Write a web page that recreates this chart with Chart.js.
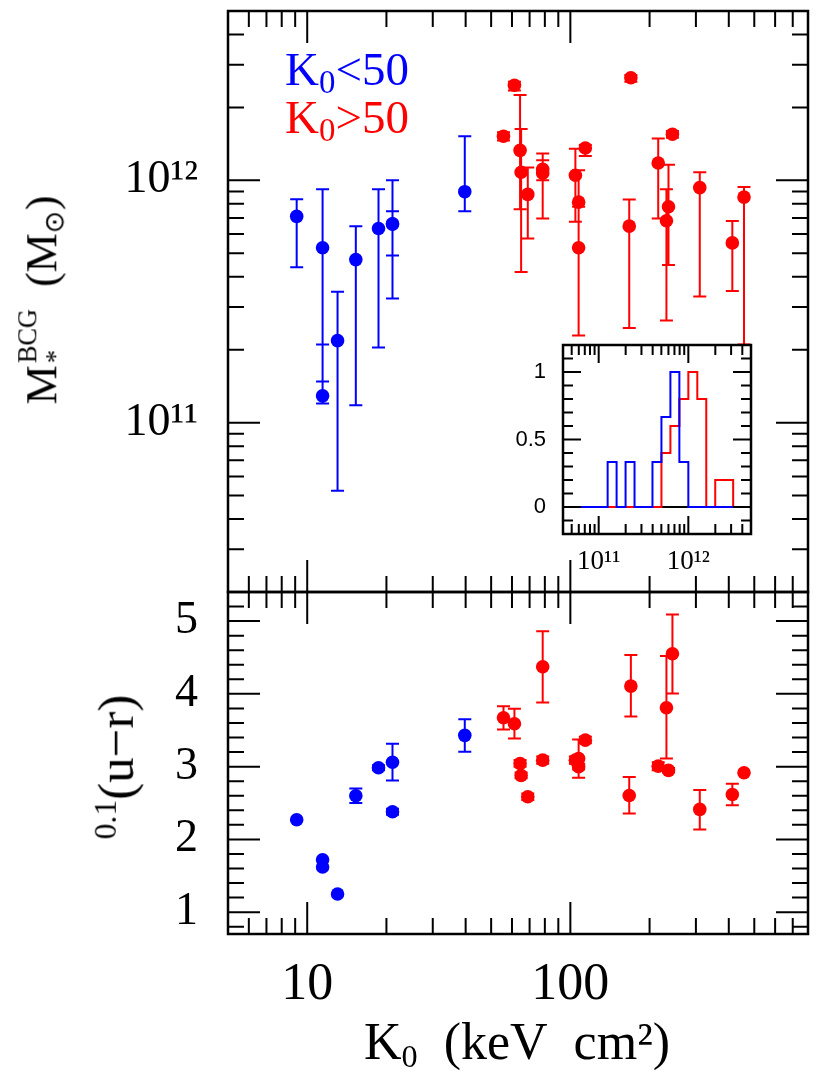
<!DOCTYPE html>
<html>
<head>
<meta charset="utf-8">
<title>BCG stellar mass and colour against K0</title>
<script src="https://cdn.jsdelivr.net/npm/chart.js@4.4.1/dist/chart.umd.min.js"></script>
<style>
  body { margin: 0; background: #fff; }
  #wrap { position: relative; width: 830px; height: 1084px; font-family: 'Liberation Serif', serif; color: #000; overflow: hidden; }
  canvas { position: absolute; }
  .lbl { position: absolute; white-space: nowrap; line-height: 1; }
  .rot { transform: translate(-50%, -50%) rotate(-90deg); }
  .sub { font-size: 0.62em; vertical-align: -0.25em; }
  .sup { font-size: 0.62em; vertical-align: 0.55em; }
</style>
</head>
<body>
<div id="wrap">
  <canvas id="topChart" width="830" height="600" style="left:0;top:0"></canvas>
  <canvas id="bottomChart" width="830" height="524" style="left:0;top:560px"></canvas>
  <canvas id="insetChart" width="280" height="260" style="left:490px;top:330px"></canvas>

  <div class="lbl" style="left:285px;top:46px;font-size:47px;color:#0000ff">K<span class="sub" style="font-size:0.7em">0</span>&lt;50</div>
  <div class="lbl" style="left:285px;top:94px;font-size:47px;color:#ff0000">K<span class="sub" style="font-size:0.7em">0</span>&gt;50</div>

  <div class="lbl rot" style="left:42px;top:300px;font-size:44px">M<span style="display:inline-block;font-size:0.6em;line-height:1.05;vertical-align:-0.3em;margin-left:2px"><span style="display:block">BCG</span><span style="display:block">*</span></span>&nbsp;&nbsp;(M<span class="sub">⊙</span>)</div>
  <div class="lbl rot" style="left:116px;top:767px;font-size:51px"><span class="sup">0.1</span>(u−r)</div>
  <div class="lbl" style="left:517px;top:1016px;font-size:52px;transform:translateX(-50%)">K<span class="sub">0</span>&nbsp;&nbsp;(keV&nbsp;&nbsp;cm²)</div>
</div>

<script>
// K0 (keV cm^2) of each cluster, split at K0 = 50
const blueK = [9.12, 11.44, 11.44, 13.04, 15.3, 18.66, 21.09, 21.09, 39.7];
const redK = [61.3, 55.7, 64.4, 65.0, 68.9, 78.5, 78.5, 104.5, 114.0, 107.5, 107.5,
              169.8, 167.4, 215.7, 244.3, 236, 231.8, 310.3, 412.6, 457];

// BCG stellar mass (Msun) with upper / lower error ends
const blueMass = [7.1e11, 5.27e11, 1.29e11, 2.18e11, 4.71e11, 6.33e11, 6.62e11, 6.6e11, 8.98e11];
const blueMassHi = [8.35e11, 9.18e11, 2.1e11, 3.47e11, 6.47e11, 9.18e11, 1.0e12, 7.45e11, 1.52e12];
const blueMassLo = [4.38e11, 1.48e11, 1.2e11, 5.23e10, 1.18e11, 2.04e11, 3.25e11, 4.9e11, 7.46e11];
const redMass = [2.47e12, 1.52e12, 1.33e12, 1.08e12, 8.75e11, 1.11e12, 1.07e12, 1.05e12, 1.36e12, 8.13e11,
                 5.27e11, 2.65e12, 6.47e11, 1.18e12, 1.55e12, 7.78e11, 6.81e11, 9.33e11, 5.52e11, 8.53e11];
const redMassHi = [2.55e12, 1.58e12, 2.25e12, 1.63e12, 1.13e12, 1.29e12, 1.21e12, 1.35e12, 1.4e12, 1.1e12,
                   7.78e11, 2.72e12, 8.34e11, 1.49e12, 1.6e12, 1.16e12, 9.18e11, 1.08e12, 6.8e11, 9.38e11];
const redMassLo = [2.35e12, 1.46e12, 7.59e11, 4.19e11, 5.75e11, 1.0e12, 6.96e11, 6.74e11, 1.26e12, 7.78e11,
                   2.29e11, 2.55e12, 2.46e11, 6.96e11, 1.5e12, 4.47e11, 2.64e11, 3.32e11, 3.49e11, 2.1e11];

// 0.1(u-r) colour with error ends (null = no bar)
const blueColour = [2.27, 1.72, 1.62, 1.25, 2.6, 2.985, 3.06, 2.38, 3.43];
const blueColourHi = [null, null, null, null, 2.7, 3.02, 3.315, 2.42, 3.65];
const blueColourLo = [null, null, null, null, 2.5, 2.95, 2.81, 2.34, 3.205];
const redColour = [3.59, 3.672, 3.044, 2.879, 2.586, 4.373, 3.089, 3.089, 3.364, 3.11,
                   3.0, 4.107, 2.604, 3.007, 4.552, 2.948, 3.81, 2.412, 2.618, 2.916];
const redColourHi = [3.796, 3.83, 3.09, 2.92, 2.63, 4.86, 3.14, 3.14, 3.41, 3.374,
                     3.04, 4.533, 2.856, 3.06, 5.09, 2.98, 4.519, 2.68, 2.765, null];
const redColourLo = [3.388, 3.51, 3.0, 2.84, 2.54, 3.88, 3.04, 3.04, 3.32, 2.848,
                     2.96, 3.69, 2.357, 2.95, 4.006, 2.92, 3.113, 2.137, 2.471, null];

// inset: normalised histograms of log10 stellar mass (left bin edges + closing edge)
const histLogMass = [10.8, 10.9, 11.0, 11.1, 11.2, 11.3, 11.4, 11.5, 11.6, 11.7, 11.8, 11.9, 12.0, 12.1, 12.2, 12.3, 12.4, 12.5];
const histBlue = [0, 0, 0, 0.333, 0, 0.333, 0, 0, 0.333, 0.667, 1, 0.333, 0, 0, 0, 0, 0, 0];
const histRed = [0, 0, 0, 0, 0, 0, 0, 0, 0, 0.4, 0.6, 0.8, 1, 0.8, 0, 0.2, 0.2, 0];
const histBaseLogMass = [10.7, 12.7];

// tick values
const kMajor = [10, 100];
const kMinor = [6, 7, 8, 9, 20, 30, 40, 50, 60, 70, 80, 90, 200, 300, 400, 500, 600, 700];
const massMajor = [1e11, 1e12];
const massMinor = [3e10, 4e10, 5e10, 6e10, 7e10, 8e10, 9e10, 2e11, 3e11, 4e11, 5e11, 6e11, 7e11, 8e11, 9e11, 2e12, 3e12, 4e12];
const colourMajor = [1, 2, 3, 4, 5];
const colourMinor = [0.8, 1.2, 1.4, 1.6, 1.8, 2.2, 2.4, 2.6, 2.8, 3.2, 3.4, 3.6, 3.8, 4.2, 4.4, 4.6, 4.8, 5.2];
const insetMassMajor = [1e11, 1e12];
const insetMassMinor = [5e10, 6e10, 7e10, 8e10, 9e10, 2e11, 3e11, 4e11, 5e11, 6e11, 7e11, 8e11, 9e11, 2e12, 3e12, 4e12];
const insetFracMajor = [0, 0.5, 1];
const insetFracMinor = [-0.1, 0.1, 0.2, 0.3, 0.4, 0.6, 0.7, 0.8, 0.9, 1.1];

const BLUE = '#0000ff';
const RED = '#ff0000';
const SERIF = 'Liberation Serif';

Chart.defaults.font.family = SERIF;
Chart.defaults.color = '#000';

function pow10Label(v) {
  return Math.abs(v - 1e11) < 1 ? '10¹¹' : '10¹²';
}

// fixed axis box size, no extra label overhang padding
function fixSize(w, h) {
  return s => {
    if (w != null) s.width = w;
    if (h != null) s.height = h;
    s.paddingTop = 0; s.paddingBottom = 0; s.paddingLeft = 0; s.paddingRight = 0;
  };
}

// frame with inward ticks on all four sides
const axisFrame = {
  id: 'axisFrame',
  beforeDraw(chart, args, opts) {
    if (!opts.fill) return;
    const a = chart.chartArea;
    chart.ctx.save();
    chart.ctx.fillStyle = '#fff';
    chart.ctx.fillRect(a.left, a.top, a.right - a.left, a.bottom - a.top);
    chart.ctx.restore();
  },
  afterDraw(chart, args, opts) {
    const ctx = chart.ctx;
    const { left, right, top, bottom } = chart.chartArea;
    const xs = chart.scales.x, ys = chart.scales.y;
    ctx.save();
    ctx.strokeStyle = '#000';
    ctx.lineWidth = opts.lineWidth;
    ctx.beginPath();
    const xTick = (v, len) => {
      const p = xs.getPixelForValue(v);
      ctx.moveTo(p, bottom); ctx.lineTo(p, bottom - len);
      ctx.moveTo(p, top); ctx.lineTo(p, top + len);
    };
    const yTick = (v, len) => {
      const p = ys.getPixelForValue(v);
      ctx.moveTo(left, p); ctx.lineTo(left + len, p);
      ctx.moveTo(right, p); ctx.lineTo(right - len, p);
    };
    opts.xMajor.forEach(v => xTick(v, opts.majorLen));
    opts.xMinor.forEach(v => xTick(v, opts.minorLen));
    opts.yMajor.forEach(v => yTick(v, opts.majorLen));
    opts.yMinor.forEach(v => yTick(v, opts.minorLen));
    ctx.stroke();
    ctx.lineWidth = opts.frameWidth;
    ctx.strokeRect(left, top, right - left, bottom - top);
    ctx.restore();
  }
};

// vertical error bars with caps, from dataset.errHi / dataset.errLo
const errorBars = {
  id: 'errorBars',
  beforeDatasetsDraw(chart) {
    const ctx = chart.ctx, xs = chart.scales.x, ys = chart.scales.y;
    ctx.save();
    ctx.lineWidth = 2;
    chart.data.datasets.forEach(ds => {
      if (!ds.errHi) return;
      ctx.strokeStyle = ds.backgroundColor;
      ctx.beginPath();
      ds.data.forEach((p, i) => {
        if (ds.errHi[i] == null) return;
        const px = xs.getPixelForValue(p.x);
        const yh = ys.getPixelForValue(ds.errHi[i]);
        const yl = ys.getPixelForValue(ds.errLo[i]);
        ctx.moveTo(px, yh); ctx.lineTo(px, yl);
        ctx.moveTo(px - 6.5, yh); ctx.lineTo(px + 6.5, yh);
        ctx.moveTo(px - 6.5, yl); ctx.lineTo(px + 6.5, yl);
      });
      ctx.stroke();
    });
    ctx.restore();
  }
};

function points(xs, ys) {
  return xs.map((x, i) => ({ x: x, y: ys[i] }));
}

function pointSet(label, xs, ys, hi, lo, colour) {
  return {
    label: label,
    data: points(xs, ys),
    backgroundColor: colour,
    borderWidth: 0,
    pointRadius: 6.8,
    pointHoverRadius: 6.8,
    errHi: hi,
    errLo: lo
  };
}

const common = {
  responsive: false,
  animation: false,
  events: [],
  plugins: { legend: { display: false }, tooltip: { enabled: false } }
};

// top panel: stellar mass
new Chart(document.getElementById('topChart'), {
  type: 'scatter',
  data: {
    datasets: [
      pointSet('K0<50', blueK, blueMass, blueMassHi, blueMassLo, BLUE),
      pointSet('K0>50', redK, redMass, redMassHi, redMassLo, RED)
    ]
  },
  options: {
    ...common,
    layout: { padding: { top: 11, right: 22, bottom: 8, left: 0 } },
    plugins: {
      ...common.plugins,
      axisFrame: { xMajor: kMajor, xMinor: kMinor, yMajor: massMajor, yMinor: massMinor,
                   majorLen: 32, minorLen: 16, lineWidth: 2, frameWidth: 2.5 }
    },
    scales: {
      x: { type: 'logarithmic', min: 5, max: 800, display: false },
      y: {
        type: 'logarithmic', min: 2e10, max: 5e12,
        grid: { display: false, drawTicks: false },
        border: { display: false },
        afterFit: fixSize(228, null),
        afterBuildTicks: s => { s.ticks = massMajor.map(v => ({ value: v })); },
        ticks: { autoSkip: false, padding: 30, font: { size: 46 }, callback: v => pow10Label(v) }
      }
    }
  },
  plugins: [axisFrame, errorBars]
});

// bottom panel: colour
new Chart(document.getElementById('bottomChart'), {
  type: 'scatter',
  data: {
    datasets: [
      pointSet('K0<50', blueK, blueColour, blueColourHi, blueColourLo, BLUE),
      pointSet('K0>50', redK, redColour, redColourHi, redColourLo, RED)
    ]
  },
  options: {
    ...common,
    layout: { padding: { top: 32, right: 22, bottom: 0, left: 0 } },
    plugins: {
      ...common.plugins,
      axisFrame: { xMajor: kMajor, xMinor: kMinor, yMajor: colourMajor, yMinor: colourMinor,
                   majorLen: 32, minorLen: 16, lineWidth: 2, frameWidth: 2.5 }
    },
    scales: {
      x: {
        type: 'logarithmic', min: 5, max: 800,
        grid: { display: false, drawTicks: false },
        border: { display: false },
        afterFit: fixSize(null, 150),
        afterBuildTicks: s => { s.ticks = kMajor.map(v => ({ value: v })); },
        ticks: { autoSkip: false, maxRotation: 0, padding: 20, font: { size: 52 }, callback: v => String(v) }
      },
      y: {
        type: 'linear', min: 0.7, max: 5.4,
        grid: { display: false, drawTicks: false },
        border: { display: false },
        afterFit: fixSize(228, null),
        afterBuildTicks: s => { s.ticks = colourMajor.map(v => ({ value: v })); },
        ticks: { autoSkip: false, padding: 30, font: { size: 46 }, callback: v => String(v) }
      }
    }
  },
  plugins: [axisFrame, errorBars]
});

// inset: mass histograms
function histSet(logs, vals, colour) {
  return {
    data: logs.map((l, i) => ({ x: Math.pow(10, l), y: vals[i] })),
    borderColor: colour,
    borderWidth: 2,
    pointRadius: 0,
    stepped: true,
    fill: false
  };
}

new Chart(document.getElementById('insetChart'), {
  type: 'line',
  data: {
    datasets: [
      { ...histSet(histLogMass, histBlue, BLUE), order: 0 },
      { ...histSet(histLogMass, histRed, RED), order: 1 },
      { ...histSet(histBaseLogMass, [0, 0], '#000'), stepped: false, order: 2 }
    ]
  },
  options: {
    ...common,
    layout: { padding: { top: 15, right: 19, bottom: 0, left: 0 } },
    plugins: {
      ...common.plugins,
      axisFrame: { xMajor: insetMassMajor, xMinor: insetMassMinor, yMajor: insetFracMajor, yMinor: insetFracMinor,
                   majorLen: 18, minorLen: 10, lineWidth: 2, frameWidth: 2.5, fill: true }
    },
    scales: {
      x: {
        type: 'logarithmic', min: 4e10, max: 5e12,
        grid: { display: false, drawTicks: false },
        border: { display: false },
        afterFit: fixSize(null, 56),
        afterBuildTicks: s => { s.ticks = insetMassMajor.map(v => ({ value: v })); },
        ticks: { autoSkip: false, maxRotation: 0, padding: 12, font: { size: 27 }, callback: v => pow10Label(v) }
      },
      y: {
        type: 'linear', min: -0.2, max: 1.2,
        grid: { display: false, drawTicks: false },
        border: { display: false },
        afterFit: fixSize(73, null),
        afterBuildTicks: s => { s.ticks = insetFracMajor.map(v => ({ value: v })); },
        ticks: { autoSkip: false, padding: 17, font: { size: 22, family: 'Liberation Sans' }, callback: v => String(v) }
      }
    }
  },
  plugins: [axisFrame]
});
</script>
</body>
</html>
